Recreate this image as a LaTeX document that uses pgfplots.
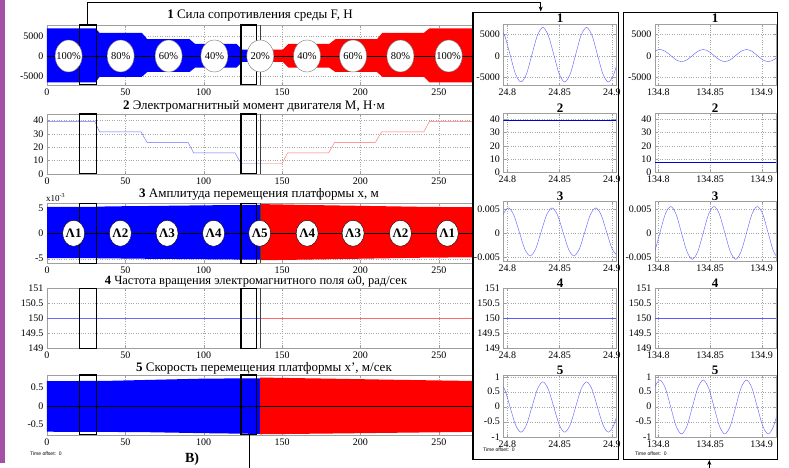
\documentclass[border=0pt]{standalone}
\usepackage{fontspec}
\setmainfont{Liberation Serif}
\newfontfamily\sansf{Liberation Sans}
\usepackage{pgfplots}
\pgfplotsset{compat=1.18}
\usetikzlibrary{shapes.geometric, arrows.meta}

\definecolor{pblue}{RGB}{0,0,255}
\definecolor{pred}{RGB}{255,0,0}
\definecolor{lblue}{RGB}{105,105,255}
\definecolor{lred}{RGB}{255,105,105}
\definecolor{sblue}{RGB}{90,90,255}
\definecolor{purp}{RGB}{165,80,165}

\pgfplotsset{
  panel/.style={scale only axis, clip=true, anchor=north west,
    axis line style={gray!75}, tick style={gray!75, thin}, major tick length=3pt,
    grid=major, grid style={dotted, gray!70},
    tick label style={font=\fontsize{10}{10}\selectfont},
    /pgf/number format/assume math mode=true, /pgf/number format/1000 sep={},
    scaled ticks=false},
  leftp/.style={panel, width=431pt, xmin=0, xmax=275,
    xtick={0,50,100,150,200,250}, xticklabels={0,50,100,150,200,250}},
  ra/.style={panel, width=112.7pt, xmin=24.796, xmax=24.904,
    xtick={24.8,24.85,24.9}, xticklabels={24.8,24.85,24.9}},
  rb/.style={panel, width=121pt, xmin=134.7968, xmax=134.9138,
    xtick={134.8,134.85,134.9}, xticklabels={134.8,134.85,134.9}},
  y1/.style={height=61.7pt, ymin=-6907, ymax=7442, ytick={-5000,0,5000}, yticklabels={-5000,0,5000}},
  y2/.style={height=59.2pt, ymin=0, ymax=44.3, ytick={0,10,20,30,40}, yticklabels={0,10,20,30,40}},
  y3/.style={height=60pt, ymin=-0.0059, ymax=0.0066, ytick={-0.005,0,0.005}, yticklabels={-0.005,0,0.005}},
  y4/.style={height=60pt, ymin=149, ymax=151, ytick={149,149.5,150,150.5,151}, yticklabels={149,149.5,150,150.5,151}},
  y5/.style={height=62.3pt, ymin=-1.02, ymax=1.057, ytick={-1,-0.5,0,0.5,1}, yticklabels={-1,-0.5,0,0.5,1}},
}

\newcommand{\pell}[2]{\node[ellipse, draw=black!55, fill=white, minimum width=27pt, minimum height=32pt, inner sep=0pt] at (axis cs:#1,0) {};
  \node[font=\fontsize{10.5}{10.5}\selectfont] at (axis cs:#1,0) {#2};}
\newcommand{\lell}[2]{\node[ellipse, draw=black, fill=white, minimum width=22pt, minimum height=26pt, inner sep=0pt] at (axis cs:#1,0) {};
  \node[font=\bfseries\fontsize{13}{13}\selectfont] at (axis cs:#1,0) {#2};}
\newcommand{\boxes}[2]{\draw[line width=1.1pt] (axis cs:20.6,#1) rectangle (axis cs:31.3,#2);
  \draw[line width=1.1pt] (axis cs:123.8,#1) rectangle (axis cs:133.8,#2);}
\newcommand{\sepl}[2]{\draw[gray!50!black] (axis cs:136,#1) -- (axis cs:136,#2);}
\newcommand{\zline}{\draw[black] (axis cs:0,0) -- (axis cs:280,0);}

\begin{document}
\begin{tikzpicture}
\path[use as bounding box] (0pt,0pt) rectangle (789pt,468pt);
\fill[purp] (0pt,5.3pt) rectangle (5pt,468pt);

% ---------- Left panel 1
\begin{axis}[leftp, at={(47pt,443pt)}, height=60pt, ymin=-7250, ymax=7750,
  ytick={-5000,0,5000}, yticklabels={-5000,0,5000}]
\addplot[fill=pblue, draw=none] coordinates {(0,6900) (31,6900) (33.5,5800) (60.5,5800) (64,4200) (91,4200) (94.5,3000) (121,3000) (124.5,1600) (136,1600) (136,-1500) (124.5,-1500) (121,-2900) (94.5,-2900) (91,-4000) (64,-4000) (60.5,-5200) (33.5,-5200) (31,-6600) (0,-6600)} -- cycle;
\addplot[fill=pred, draw=none] coordinates {(136,1600) (150.5,1600) (154,3000) (180,3000) (184,4200) (210.5,4200) (214,5800) (240.5,5800) (244,6900) (280,6900) (280,-6600) (244,-6600) (240.5,-5200) (214,-5200) (210.5,-4000) (184,-4000) (180,-2900) (154,-2900) (150.5,-1500) (136,-1500)} -- cycle;
\zline
\sepl{-7250}{7750}
\boxes{-7250}{7750}
\pell{13.8}{100\%}
\pell{47}{80\%}
\pell{77.6}{60\%}
\pell{106.8}{40\%}
\pell{136.1}{20\%}
\pell{165.9}{40\%}
\pell{195.3}{60\%}
\pell{225.5}{80\%}
\pell{256.3}{100\%}
\end{axis}

% ---------- Left panel 2
\begin{axis}[leftp, at={(47pt,354pt)}, height=60pt, ymin=0, ymax=45,
  ytick={0,10,20,30,40}, yticklabels={0,10,20,30,40}]
\addplot[lblue] coordinates {(0,39.5)(30.5,39.5)(33.5,31.6)(60,31.6)(63.8,23.7)(90,23.7)(93.6,15.8)(120,15.8)(123.8,7.9)(136,7.9)};
\addplot[lred] coordinates {(136,7.9)(150,7.9)(153.5,15.8)(179.7,15.8)(183.5,23.7)(209.5,23.7)(213.5,31.6)(240.5,31.6)(244,39.5)(280,39.5)};
\sepl{0}{45}
\boxes{0}{45}
\end{axis}

% ---------- Left panel 3
\begin{axis}[leftp, at={(47pt,264.7pt)}, height=60pt, ymin=-5.9, ymax=5.9,
  ytick={-5,0,5}, yticklabels={-5,0,5}]
\addplot[fill=pblue, draw=none] coordinates {(0,5.2)(30,5.2)(40,5.3)(60,5.35)(100,5.5)(136,5.6)(136,-5.2)(100,-5.1)(60,-5.0)(30,-4.9)(0,-4.9)} -- cycle;
\addplot[fill=pred, draw=none] coordinates {(136,5.75)(160,5.6)(200,5.4)(240,5.2)(280,5.1)(280,-4.7)(240,-4.8)(200,-5.0)(160,-5.2)(136,-5.3)} -- cycle;
\zline
\sepl{-5.9}{5.9}
\boxes{-5.9}{5.9}
\lell{17}{Λ1}
\lell{46.8}{Λ2}
\lell{76.6}{Λ3}
\lell{106.3}{Λ4}
\lell{135.7}{Λ5}
\lell{166}{Λ4}
\lell{195.3}{Λ3}
\lell{225.5}{Λ2}
\lell{255.4}{Λ1}
\end{axis}

% ---------- Left panel 4
\begin{axis}[leftp, at={(47pt,179.7pt)}, height=60pt, ymin=149, ymax=151,
  ytick={149,149.5,150,150.5,151}, yticklabels={149,149.5,150,150.5,151}]
\addplot[lblue] coordinates {(0,150)(136,150)};
\addplot[lred] coordinates {(136,150)(280,150)};
\sepl{149}{151}
\boxes{149}{151}
\end{axis}

% ---------- Left panel 5
\begin{axis}[leftp, at={(47pt,93pt)}, height=60pt, ymin=-0.8, ymax=0.85,
  ytick={-0.5,0,0.5}, yticklabels={-0.5,0,0.5}]
\addplot[fill=pblue, draw=none] coordinates {(0,0.68)(40,0.69)(60,0.71)(100,0.75)(136,0.76)(136,-0.77)(100,-0.75)(60,-0.72)(0,-0.71)} -- cycle;
\addplot[fill=pred, draw=none] coordinates {(136,0.78)(180,0.75)(220,0.72)(280,0.68)(280,-0.71)(220,-0.74)(180,-0.76)(136,-0.78)} -- cycle;
\zline
\boxes{-0.8}{0.85}
\end{axis}

% titles left
\node[font=\fontsize{13}{13}\selectfont] at (260pt,452pt) {\textbf{1} Сила сопротивления среды F, Н};
\node[font=\fontsize{13}{13}\selectfont] at (254pt,361.3pt) {\textbf{2} Электромагнитный момент двигателя M, Н·м};
\node[font=\fontsize{13}{13}\selectfont] at (259pt,273.7pt) {\textbf{3} Амплитуда перемещения платформы x, м};
\node[font=\fontsize{12.5}{12.5}\selectfont] at (256pt,186.6pt) {\textbf{4} Частота вращения электромагнитного поля ω0, рад/сек};
\node[font=\fontsize{13}{13}\selectfont] at (264pt,99.7pt) {\textbf{5} Скорость перемещения платформы x', м/сек};
\node[font=\fontsize{9}{9}\selectfont, anchor=south west, inner sep=0pt] at (46pt,266pt) {x10\textsuperscript{-3}};
\node[font=\sansf\fontsize{5}{5}\selectfont, anchor=west, inner sep=0pt] at (30pt,14.7pt) {Time offset:\ \ 0};
\node[font=\bfseries\fontsize{14}{14}\selectfont] at (192pt,9pt) {В)};

% ---------- right boxes
\draw[line width=1.2pt, fill=white] (473pt,8.7pt) rectangle (618.3pt,455.7pt);
\draw[line width=1.2pt, fill=white] (623.3pt,8.7pt) rectangle (777.3pt,455.7pt);

% box 1
\begin{axis}[ra, y1, at={(503.3pt,444pt)}]
\addplot[sblue, smooth] coordinates {(24.7920,6650)(24.7972,4790)(24.8025,300)(24.8077,-4190)(24.8129,-6050)(24.8182,-4190)(24.8234,300)(24.8287,4790)(24.8339,6650)(24.8391,4790)(24.8444,300)(24.8496,-4190)(24.8548,-6050)(24.8601,-4190)(24.8653,300)(24.8705,4790)(24.8758,6650)(24.8810,4790)(24.8862,300)(24.8915,-4190)(24.8967,-6050)(24.9020,-4190)(24.9072,300)};
\end{axis}
\begin{axis}[ra, y2, at={(503.3pt,354.7pt)}]
\addplot[blue!85!black] coordinates {(24.79,39.4)(24.91,39.4)};
\end{axis}
\begin{axis}[ra, y3, at={(503.3pt,266.3pt)}]
\addplot[sblue, smooth] coordinates {(24.7903,0.0003)(24.7956,0.00384)(24.8008,0.0053)(24.8060,0.00384)(24.8113,0.0003)(24.8165,-0.00324)(24.8217,-0.0047)(24.8270,-0.00324)(24.8322,0.0003)(24.8375,0.00384)(24.8427,0.0053)(24.8479,0.00384)(24.8532,0.0003)(24.8584,-0.00324)(24.8636,-0.0047)(24.8689,-0.00324)(24.8741,0.0003)(24.8793,0.00384)(24.8846,0.0053)(24.8898,0.00384)(24.8950,0.0003)(24.9003,-0.00324)(24.9055,-0.0047)};
\end{axis}
\begin{axis}[ra, y4, at={(503.3pt,179.7pt)}]
\addplot[sblue] coordinates {(24.79,150)(24.91,150)};
\end{axis}
\begin{axis}[ra, y5, at={(503.3pt,93pt)}]
\addplot[sblue, smooth] coordinates {(24.7920,0.83)(24.7972,0.584)(24.8025,-0.01)(24.8077,-0.604)(24.8129,-0.85)(24.8182,-0.604)(24.8234,-0.01)(24.8287,0.584)(24.8339,0.83)(24.8391,0.584)(24.8444,-0.01)(24.8496,-0.604)(24.8548,-0.85)(24.8601,-0.604)(24.8653,-0.01)(24.8705,0.584)(24.8758,0.83)(24.8810,0.584)(24.8862,-0.01)(24.8915,-0.604)(24.8967,-0.85)(24.9020,-0.604)(24.9072,-0.01)};
\end{axis}

% box 2
\begin{axis}[rb, y1, at={(655pt,444pt)}]
\addplot[sblue, smooth] coordinates {(134.7910,100)(134.7963,1090)(134.8015,1500)(134.8067,1090)(134.8120,100)(134.8172,-890)(134.8224,-1300)(134.8277,-890)(134.8329,100)(134.8382,1090)(134.8434,1500)(134.8486,1090)(134.8539,100)(134.8591,-890)(134.8643,-1300)(134.8696,-890)(134.8748,100)(134.8800,1090)(134.8853,1500)(134.8905,1090)(134.8957,100)(134.9010,-890)(134.9062,-1300)(134.9115,-890)(134.9167,100)};
\end{axis}
\begin{axis}[rb, y2, at={(655pt,354.7pt)}]
\addplot[blue!85!black] coordinates {(134.79,7.9)(134.92,7.9)};
\end{axis}
\begin{axis}[rb, y3, at={(655pt,266.3pt)}]
\addplot[sblue, smooth] coordinates {(134.7910,-0.0054)(134.7963,-0.00379)(134.8015,0.0001)(134.8067,0.00399)(134.8120,0.0056)(134.8172,0.00399)(134.8224,0.0001)(134.8277,-0.00379)(134.8329,-0.0054)(134.8382,-0.00379)(134.8434,0.0001)(134.8486,0.00399)(134.8539,0.0056)(134.8591,0.00399)(134.8643,0.0001)(134.8696,-0.00379)(134.8748,-0.0054)(134.8800,-0.00379)(134.8853,0.0001)(134.8905,0.00399)(134.8957,0.0056)(134.9010,0.00399)(134.9062,0.0001)(134.9115,-0.00379)(134.9167,-0.0054)};
\end{axis}
\begin{axis}[rb, y4, at={(655pt,179.7pt)}]
\addplot[sblue] coordinates {(134.79,150)(134.92,150)};
\end{axis}
\begin{axis}[rb, y5, at={(655pt,93pt)}]
\addplot[sblue, smooth] coordinates {(134.7910,-0.01)(134.7963,0.626)(134.8015,0.89)(134.8067,0.626)(134.8120,-0.01)(134.8172,-0.646)(134.8224,-0.91)(134.8277,-0.646)(134.8329,-0.01)(134.8382,0.626)(134.8434,0.89)(134.8486,0.626)(134.8539,-0.01)(134.8591,-0.646)(134.8643,-0.91)(134.8696,-0.646)(134.8748,-0.01)(134.8800,0.626)(134.8853,0.89)(134.8905,0.626)(134.8957,-0.01)(134.9010,-0.646)(134.9062,-0.91)(134.9115,-0.646)(134.9167,-0.01)};
\end{axis}

% right titles
\foreach \n/\yy in {1/449.7, 2/359.7, 3/271.3, 4/184.5, 5/98} {
  \node[font=\bfseries\fontsize{13}{13}\selectfont] at (560pt,\yy pt) {\n};
  \node[font=\bfseries\fontsize{13}{13}\selectfont] at (715pt,\yy pt) {\n};
}
\node[font=\sansf\fontsize{5}{5}\selectfont, anchor=west, inner sep=0pt] at (483pt,18pt) {Time offset:\ \ 0};
\node[font=\sansf\fontsize{5}{5}\selectfont, anchor=west, inner sep=0pt] at (635pt,14.7pt) {Time offset:\ \ 0};

% connectors
\draw[line width=0.9pt] (87.3pt,443pt) -- (87.3pt,465.3pt) -- (540.7pt,465.3pt);
\draw[line width=0.9pt, -{Stealth[length=5pt,width=4pt]}] (540.7pt,465.3pt) -- (540.7pt,456.5pt);
\draw[line width=0.9pt] (249.3pt,33pt) -- (249.3pt,0pt);
\draw[line width=0.9pt, -{Stealth[length=5pt,width=4pt]}] (709.3pt,0pt) -- (709.3pt,8pt);
\end{tikzpicture}
\end{document}
